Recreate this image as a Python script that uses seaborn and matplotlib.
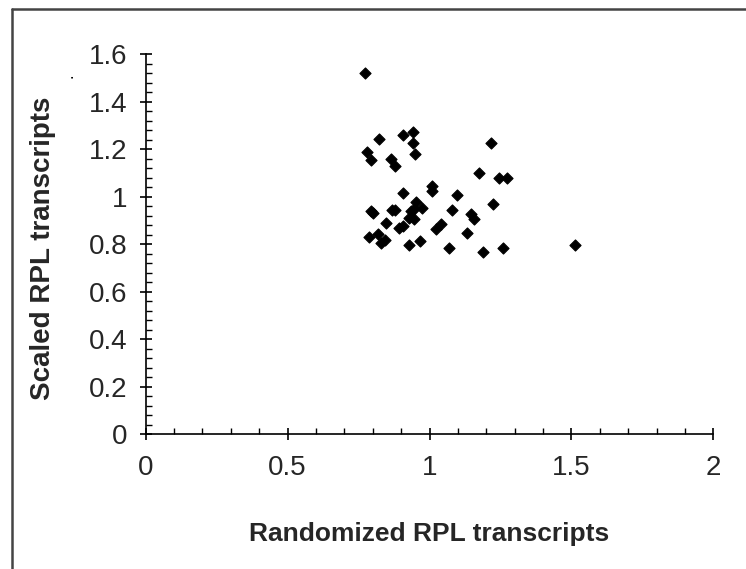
import matplotlib.pyplot as plt
import seaborn as sns
import pandas as pd
from matplotlib.ticker import MultipleLocator
from matplotlib.lines import Line2D

# values
randomized = [0.772, 0.822, 0.906, 0.941, 0.941, 0.948, 0.781, 0.793, 0.863, 0.877,
              1.216, 1.175, 1.243, 1.274, 1.009, 1.009, 0.906, 1.098, 1.222, 0.953,
              0.793, 0.801, 0.869, 0.878, 0.933, 0.945, 0.974, 0.945, 0.927, 1.078,
              1.147, 1.155, 0.846, 0.892, 0.906, 1.023, 1.039, 0.787, 0.818, 0.830,
              0.843, 0.927, 0.968, 1.132, 1.070, 1.189, 1.258, 1.512]
scaled = [1.523, 1.243, 1.259, 1.272, 1.225, 1.181, 1.190, 1.155, 1.158, 1.130,
          1.225, 1.101, 1.078, 1.078, 1.047, 1.026, 1.015, 1.006, 0.971, 0.979,
          0.941, 0.931, 0.944, 0.944, 0.941, 0.947, 0.954, 0.905, 0.911, 0.944,
          0.927, 0.907, 0.891, 0.867, 0.878, 0.864, 0.884, 0.832, 0.843, 0.804,
          0.818, 0.797, 0.814, 0.849, 0.783, 0.769, 0.783, 0.797]

df = pd.DataFrame({"Randomized RPL transcripts": randomized,
                   "Scaled RPL transcripts": scaled})

sns.set_style("ticks")
plt.rcParams['font.family'] = ['Liberation Sans', 'DejaVu Sans']

fig = plt.figure(figsize=(7.46, 5.69), dpi=100)
ax = fig.add_axes([0.1953, 0.2367, 0.761, 0.668])

sns.scatterplot(data=df, x="Randomized RPL transcripts", y="Scaled RPL transcripts",
                ax=ax, marker="D", s=32, color="black", edgecolor="black", linewidth=0.8)

ax.set_xlim(0, 2)
ax.set_ylim(0, 1.6)
ax.xaxis.set_minor_locator(MultipleLocator(0.1))
ax.yaxis.set_minor_locator(MultipleLocator(0.04))
ax.set_xticks([0, 0.5, 1, 1.5, 2], ["0", "0.5", "1", "1.5", "2"])
ax.set_yticks([0, 0.2, 0.4, 0.6, 0.8, 1, 1.2, 1.4, 1.6],
              ["0", "0.2", "0.4", "0.6", "0.8", "1", "1.2", "1.4", "1.6"])

ax.tick_params(which="major", direction="inout", length=8, width=1.2, color="black",
               labelsize=20)
ax.tick_params(axis="x", which="major", pad=11)
ax.tick_params(axis="y", which="major", pad=9)
ax.tick_params(which="minor", direction="in", length=4, width=1.0, color="black")

for side in ["top", "right"]:
    ax.spines[side].set_visible(False)
for side in ["left", "bottom"]:
    ax.spines[side].set_linewidth(1.2)
    ax.spines[side].set_color("black")

ax.set_xlabel("Randomized RPL transcripts", fontsize=19, fontweight="bold")
ax.set_ylabel("Scaled RPL transcripts", fontsize=20, fontweight="bold")
ax.xaxis.set_label_coords(0.5, -0.232)
ax.yaxis.set_label_coords(-0.158, 0.49)
fig.text(0.081, 0.868, ".", fontsize=12, rotation=90, color="black")

# outer frame (only top and left are visible in the crop)
fig.add_artist(Line2D([0.016, 1.0], [0.984, 0.984], transform=fig.transFigure,
                      color="#444444", linewidth=1.8))
fig.add_artist(Line2D([0.016, 0.016], [0.0, 0.984], transform=fig.transFigure,
                      color="#444444", linewidth=1.8))

fig.savefig("out.png", dpi=100)
